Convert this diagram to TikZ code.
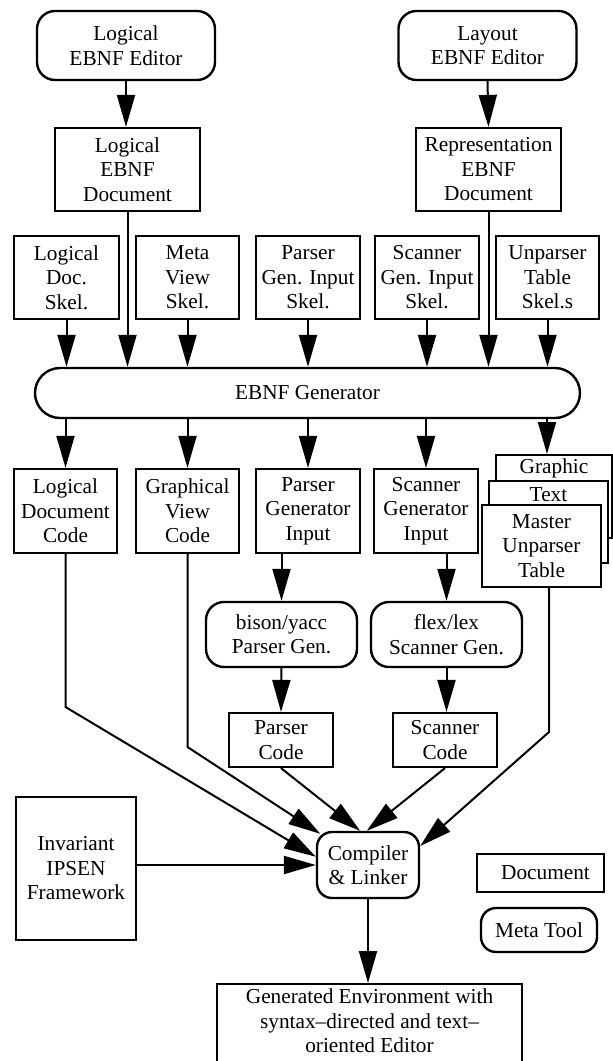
\documentclass[tikz,border=0pt]{standalone}
\usepackage{fontspec}
\setmainfont{Liberation Serif}
\usetikzlibrary{arrows.meta}
\begin{document}
\begin{tikzpicture}[x=1pt,y=-1pt,
  every node/.style={font=\fontsize{21.3}{24.5}\selectfont, align=center, inner sep=0pt},
  box/.style={draw, line width=2.2pt, rectangle, fill=white},
  rbox/.style={draw, line width=2.4pt, rectangle, rounded corners=18pt, fill=white},
  arr/.style={line width=2pt, -{Triangle[length=32pt,width=18pt]}},
  ln/.style={line width=2pt}]
\useasboundingbox (0,0) rectangle (613,1061);
% top editors and documents
\node[rbox, minimum width=178pt, minimum height=69pt] (led) at (126,45.5) {Logical\\EBNF Editor};
\node[rbox, minimum width=178pt, minimum height=69pt] (layed) at (487.5,45.5) {Layout\\EBNF Editor};
\node[box, minimum width=145pt, minimum height=83pt] (ldoc) at (127.5,169.5) {Logical\\EBNF\\Document};
\node[box, minimum width=145pt, minimum height=83pt] (rdoc) at (488.5,169.5) {Representation\\EBNF\\Document};
% skeletons
\node[box, minimum width=105pt, minimum height=83pt] (s1) at (66.5,277.5) {Logical\\Doc.\\Skel.};
\node[box, minimum width=103pt, minimum height=83pt] (s2) at (187.5,277.5) {Meta\\View\\Skel.};
\node[box, minimum width=104pt, minimum height=83pt] (s3) at (308,277.5) {Parser\\Gen. Input\\Skel.};
\node[box, minimum width=104pt, minimum height=83pt] (s4) at (427,277.5) {Scanner\\Gen. Input\\Skel.};
\node[box, minimum width=103pt, minimum height=83pt] (s5) at (547.5,277.5) {Unparser\\Table\\Skel.s};
% generator
\node[draw, line width=2.4pt, rounded corners=25pt, minimum width=545pt, minimum height=50pt] (gen) at (307.5,393) {EBNF Generator};
% generated code
\node[box, minimum width=103pt, minimum height=84pt] (c1) at (65.5,511) {Logical\\Document\\Code};
\node[box, minimum width=103pt, minimum height=84pt] (c2) at (187.5,511) {Graphical\\View\\Code};
\node[box, minimum width=104pt, minimum height=84pt] (c3) at (308,511) {Parser\\Generator\\Input};
\node[box, minimum width=104pt, minimum height=84pt] (c4) at (426,511) {Scanner\\Generator\\Input};
% stacked unparser tables
\node[box, minimum width=116pt, minimum height=83pt, anchor=north] (gr) at (554,454) {};
\node at (554,468) (grt) {Graphic};
\node[box, minimum width=119pt, minimum height=82pt, anchor=north] (tx) at (548.5,480) {};
\node at (548.5,495) (txt) {Text};
\node[box, minimum width=119pt, minimum height=82pt] (ms) at (541.5,546) {Master\\Unparser\\Table};
% tools
\node[rbox, minimum width=151pt, minimum height=65pt] (bison) at (281.5,634.5) {bison/yacc\\Parser Gen.};
\node[rbox, minimum width=151pt, minimum height=65pt] (flex) at (446.5,634.5) {flex/lex\\Scanner Gen.};
\node[box, minimum width=104pt, minimum height=54pt] (pcode) at (281,740) {Parser\\Code};
\node[box, minimum width=104pt, minimum height=54pt] (scode) at (445,740) {Scanner\\Code};
% bottom
\node[box, minimum width=120pt, minimum height=143pt] (inv) at (76,868.5) {Invariant\\IPSEN\\Framework};
\node[rbox, rounded corners=15pt, minimum width=102pt, minimum height=66pt] (comp) at (368,865) {Compiler\\\& Linker};
\node[box, minimum width=127pt, minimum height=38pt] (doc) at (540.5,873) {\hspace{10pt}Document};
\node[rbox, rounded corners=15pt, minimum width=116pt, minimum height=44pt] (meta) at (539,930) {Meta Tool};
\node[box, minimum width=305pt, minimum height=82pt, anchor=north] (env) at (369.5,983) {};
\node at (369.5,1021) (envt) {Generated Environment with\\syntax--directed and text--\\oriented Editor};
% connectors top
\draw[arr] (led.south) -- (led.south |- ldoc.north);
\draw[arr] (layed.south) -- (rdoc.north);
\foreach \n in {s1,s2,s3,s4,s5,ldoc,rdoc} \draw[arr] (\n.south) -- (\n.south |- gen.north);
\foreach \n in {c1,c2,c3,c4} \draw[arr] (gen.south -| \n.north) -- (\n.north);
\draw[arr] ([xshift=-7pt]gen.south -| gr.north) -- ([xshift=-7pt]gr.north);
\draw[arr] (c3.south -| bison.north) -- (bison.north);
\draw[arr] (c4.south -| flex.north) -- (flex.north);
\draw[arr] (bison.south) -- (pcode.north);
\draw[arr] (flex.south) -- (flex.south |- scode.north);
% into compiler
\coordinate (b1) at (65.5,707);
\coordinate (b2) at (187.5,747);
\coordinate (b3) at (549,732);
\draw[arr] (c1.south) -- (b1) -- (comp.171);
\draw[arr] (c2.south) -- (b2) -- ([shift={(3pt,-3pt)}]comp.146);
\draw[arr] ([xshift=7.5pt]ms.south) -- (b3) -- (comp.20);
\draw[arr] (pcode.south) -- (comp.103);
\draw[arr] (scode.south) -- (comp.92);
\draw[arr] (inv.east |- comp.west) -- (comp.west);
\draw[arr] (comp.south) -- (env.north -| comp.south);
\end{tikzpicture}
\end{document}
